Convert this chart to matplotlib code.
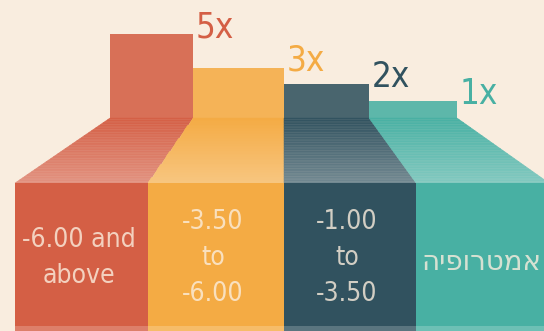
import numpy as np
import matplotlib
matplotlib.use("Agg")
import matplotlib.pyplot as plt
from matplotlib.colors import to_rgb

# --- data ---
labels = ["-6.00 and\nabove", "-3.50\nto\n-6.00", "-1.00\nto\n-3.50", "אמטרופיה"]
multipliers = [5, 3, 2, 1]
mult_labels = ["5x", "3x", "2x", "1x"]
colors = ["#d45f45", "#f4ab44", "#31525f", "#48b0a3"]

# --- layout (pixel units, y grows downwards) ---
W, H = 544, 331
bg = "#f9eddf"
top_edges = [110, 193, 284, 369, 457]
bottom_edges = [15, 148, 284, 416, 549]
unit = 16.8          # px per 1x
base_y = 118         # bottom of the raised blocks
block_y = 183        # top of the lower blocks
band_y = 326         # light band at the very bottom

font = ["DejaVu Sans"]


def mix(c, other, t):
    c = np.array(to_rgb(c))
    o = np.array(to_rgb(other))
    return tuple(c * (1 - t) + o * t)


def is_hebrew(s):
    return any("\u0590" <= ch <= "\u05ff" for ch in s)


fig = plt.figure(figsize=(W / 100, H / 100), dpi=100, facecolor=bg)
ax = fig.add_axes([0, 0, 1, 1])
ax.set_xlim(0, W)
ax.set_ylim(H, 0)
ax.axis("off")
ax.set_facecolor(bg)

for i, (m, col) in enumerate(zip(multipliers, colors)):
    tl, tr = top_edges[i], top_edges[i + 1]
    bl, br = bottom_edges[i], bottom_edges[i + 1]

    # raised block, height from the multiplier
    top = base_y - m * unit
    ax.fill([tl, tr, tr, tl], [top, top, base_y, base_y],
            color=mix(col, bg, 0.12), lw=0, zorder=2)

    # sloped part with a fade towards the bottom
    n = 40
    ys = np.linspace(base_y, block_y, n + 1)
    for k in range(n):
        y0, y1 = ys[k], ys[k + 1]
        f0 = (y0 - base_y) / (block_y - base_y)
        f1 = (y1 - base_y) / (block_y - base_y)
        xl0, xr0 = tl + (bl - tl) * f0, tr + (br - tr) * f0
        xl1, xr1 = tl + (bl - tl) * f1, tr + (br - tr) * f1
        c = mix(col, "white", 0.32 * (f0 + f1) / 2)
        ax.fill([xl0, xr0, xr1, xl1], [y0, y0, y1, y1],
                color=c, lw=0.3, ec=c, zorder=3)

    # lower block
    ax.fill([bl, br, br, bl], [block_y, block_y, band_y, band_y],
            color=col, lw=0, zorder=4)
    ax.fill([bl, br, br, bl], [band_y, band_y, H, H],
            color=mix(col, "white", 0.2), lw=0, zorder=4)

    # multiplier tag
    ax.text(tr + 3, top - 7, mult_labels[i], color=col, fontsize=25,
            family=font, stretch="condensed", ha="left", va="center", zorder=5)

    # category text (Hebrew is stored logically, drawn right-to-left)
    txt = labels[i]
    cx = (bl + min(br, W)) / 2
    if is_hebrew(txt):
        ax.text(cx + 1, 262, txt[::-1], color="#fbeede", alpha=0.8,
                fontsize=20, family=font, ha="center", va="center", zorder=6)
    else:
        ax.text(cx - 3, 258, txt, color="#fbeede", alpha=0.8, fontsize=19,
                family=font, stretch="condensed", ha="center", va="center",
                linespacing=1.5, zorder=6)

plt.savefig("out.png", dpi=100, facecolor=bg)
plt.close(fig)
